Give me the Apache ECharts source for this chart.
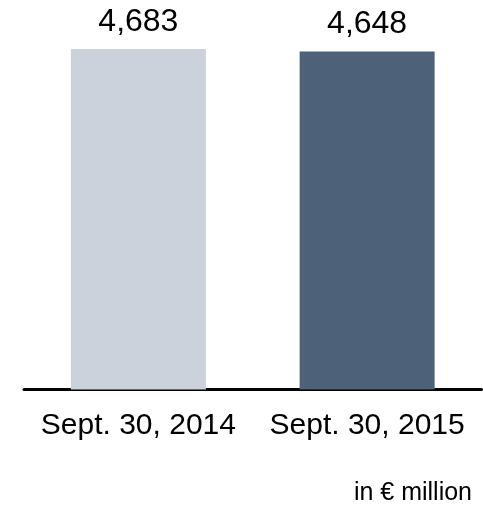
<!DOCTYPE html>
<html>
<head>
<meta charset="utf-8">
<script src="https://cdn.jsdelivr.net/npm/echarts@6/dist/echarts.min.js"></script>
<style>html,body{margin:0;padding:0;background:#fff;}#c{width:483px;height:510px;}</style>
</head>
<body>
<div id="c"></div>
<script>
var categories = ["Sept. 30, 2014", "Sept. 30, 2015"];
var values = [4683, 4648];
var barColors = ["#cbd2db", "#4d6279"];
var unitNote = "in \u20ac million";

var chart = echarts.init(document.getElementById('c'), null, {renderer: 'canvas'});
var font = "'Liberation Sans', Arial, sans-serif";
chart.setOption({
  animation: false,
  grid: {left: 24, right: 1.5, top: 26, bottom: 120.5},
  xAxis: {
    type: 'category',
    data: categories,
    offset: 2,
    axisLine: {show: true, lineStyle: {color: '#000', width: 3}},
    axisTick: {show: false},
    axisLabel: {interval: 0, fontSize: 30, color: '#000', fontFamily: font, margin: 19}
  },
  yAxis: {
    type: 'value', min: 0, max: 5000,
    show: false, splitLine: {show: false}
  },
  series: [{
    type: 'bar',
    barWidth: 135,
    data: values.map(function (v, i) { return {value: v, itemStyle: {color: barColors[i]}}; }),
    label: {
      show: true, position: 'top', distance: 11,
      fontSize: 32, color: '#000', fontFamily: font,
      formatter: function (p) { return p.value.toLocaleString('en-US'); }
    }
  }],
  graphic: [{
    type: 'text', right: 11, top: 481,
    style: {text: unitNote, fontSize: 25, fill: '#000', fontFamily: font}
  }]
});
</script>
</body>
</html>
